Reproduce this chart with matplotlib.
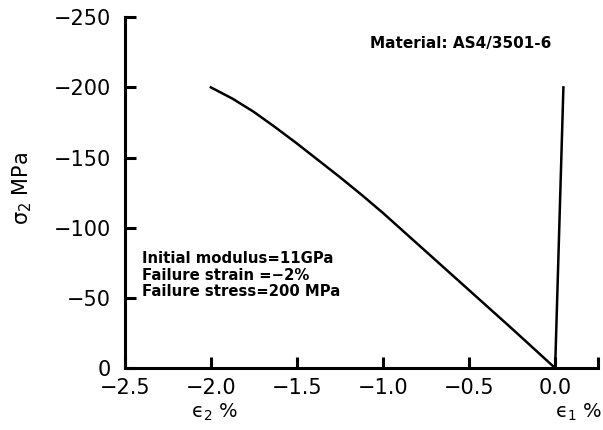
import matplotlib
matplotlib.use("Agg")
import matplotlib.pyplot as plt

# Transverse response (epsilon_2 in %, sigma_2 in MPa)
eps2 = [0.0, -0.25, -0.5, -0.75, -1.0, -1.125, -1.25, -1.375, -1.5, -1.625, -1.75, -1.875, -2.0]
sig2 = [0.0, -28, -55.5, -83, -110.5, -123.5, -136, -148, -160, -171.5, -182.5, -192, -200]
# Poisson response (epsilon_1 in %)
eps1 = [0.0, 0.048]
sig1 = [0.0, -200]

xticks = [-2.5, -2.0, -1.5, -1.0, -0.5, 0.0, 0.25]
xticklabels = ["−2.5", "−2.0", "−1.5", "−1.0", "−0.5", "0.0", ""]
yticks = [0, -50, -100, -150, -200, -250]
yticklabels = ["0", "−50", "−100", "−150", "−200", "−250"]

fig = plt.figure(figsize=(6.03, 4.30), dpi=100)
ax = fig.add_axes([0.207, 0.144, 0.785, 0.816])
ax.plot(eps2, sig2, color="black", lw=1.8)
ax.plot(eps1, sig1, color="black", lw=1.8)

ax.set_xlim(-2.5, 0.25)
ax.set_ylim(0, -250)
ax.set_xticks(xticks)
ax.set_xticklabels(xticklabels)
ax.set_yticks(yticks)
ax.set_yticklabels(yticklabels)
for s in ["top", "right"]:
    ax.spines[s].set_visible(False)
for s in ["left", "bottom"]:
    ax.spines[s].set_linewidth(2.2)
ax.tick_params(direction="in", length=8, width=2.2, labelsize=15)
ax.tick_params(axis="x", pad=7)
ax.tick_params(axis="y", pad=10)

fig.text(0.036, 0.563, "σ$_2$ MPa", rotation=90, fontsize=15, ha="center", va="center")
fig.text(0.355, 0.028, "ϵ$_2$ %", fontsize=14, ha="center", va="baseline")
fig.text(0.998, 0.028, "ϵ$_1$ %", fontsize=14, ha="right", va="baseline")

ax.text(0.71, 0.926, "Material: AS4/3501-6", transform=ax.transAxes,
        fontsize=11, fontweight="bold", ha="center", va="center")
ax.text(0.036, 0.265, "Initial modulus=11GPa\nFailure strain =−2%\nFailure stress=200 MPa",
        transform=ax.transAxes, fontsize=10.7, fontweight="bold", ha="left", va="center",
        linespacing=1.15)

fig.savefig("out.png", dpi=100)
